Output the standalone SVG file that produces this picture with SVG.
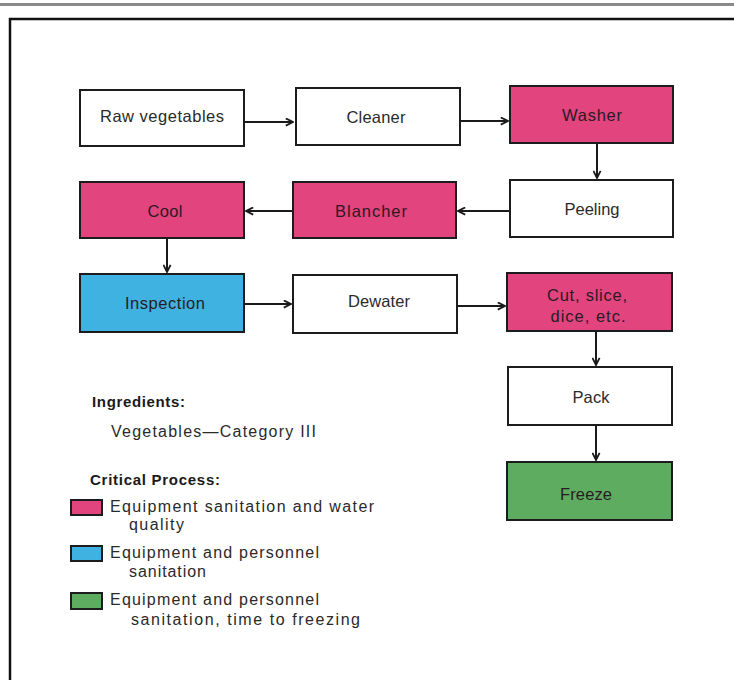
<svg xmlns="http://www.w3.org/2000/svg" width="734" height="680" viewBox="0 0 734 680">
  <defs>
    <marker id="arrow" viewBox="0 0 10 10" refX="9" refY="5" markerWidth="9" markerHeight="9" markerUnits="userSpaceOnUse" orient="auto">
      <path d="M1,1 L9,5 L1,9" fill="none" stroke="#1a1a1a" stroke-width="2"/>
    </marker>
  </defs>
  <style>
    .box { stroke: #1c1c1c; stroke-width: 2; }
    .plain { fill: #ffffff; }
    .pink { fill: #e2447d; }
    .blue { fill: #3fb2e2; }
    .green { fill: #5dac60; }
    .lbl { font-family: "Liberation Sans", "DejaVu Sans", sans-serif; font-size: 16.5px; fill: #2a2a2a; text-anchor: middle; }
    .dark { fill: #2a1a24; }
    .leg { font-family: "Liberation Sans", "DejaVu Sans", sans-serif; font-size: 16px; fill: #2a2a2a; }
    .head { font-family: "Liberation Sans", "DejaVu Sans", sans-serif; font-size: 15px; font-weight: bold; fill: #1a1a1a; }
    .conn { stroke: #1a1a1a; stroke-width: 2; fill: none; marker-end: url(#arrow); }
    .sw { stroke: #1c1c1c; stroke-width: 2; }
  </style>

  <rect x="0" y="0" width="734" height="680" fill="#ffffff"/>

  <!-- page frame -->
  <g id="frame">
    <line x1="0" y1="4.5" x2="734" y2="4.5" stroke="#8a8a8a" stroke-width="3"/>
    <polyline points="10,680 10,19 734,19" fill="none" stroke="#111" stroke-width="2.5"/>
  </g>

  <!-- process steps -->
  <g id="raw-vegetables">
    <rect class="box plain" x="80" y="90" width="164" height="56"/>
    <text class="lbl" x="162" y="122" textLength="124" lengthAdjust="spacing">Raw vegetables</text>
  </g>
  <g id="cleaner">
    <rect class="box plain" x="296" y="88" width="164" height="57"/>
    <text class="lbl" x="376" y="123" textLength="59" lengthAdjust="spacing">Cleaner</text>
  </g>
  <g id="washer">
    <rect class="box pink" x="510" y="86" width="163" height="57"/>
    <text class="lbl dark" x="592" y="121" textLength="60" lengthAdjust="spacing">Washer</text>
  </g>
  <g id="peeling">
    <rect class="box plain" x="510" y="180" width="163" height="57"/>
    <text class="lbl" x="592" y="215" textLength="55" lengthAdjust="spacing">Peeling</text>
  </g>
  <g id="blancher">
    <rect class="box pink" x="293" y="182" width="163" height="56"/>
    <text class="lbl dark" x="371" y="217" textLength="72" lengthAdjust="spacing">Blancher</text>
  </g>
  <g id="cool">
    <rect class="box pink" x="80" y="182" width="164" height="56"/>
    <text class="lbl dark" x="165" y="217" textLength="35" lengthAdjust="spacing">Cool</text>
  </g>
  <g id="inspection">
    <rect class="box blue" x="80" y="274" width="164" height="58"/>
    <text class="lbl dark" x="165" y="309" textLength="80" lengthAdjust="spacing">Inspection</text>
  </g>
  <g id="dewater">
    <rect class="box plain" x="293" y="275" width="164" height="58"/>
    <text class="lbl" x="379" y="307" textLength="62" lengthAdjust="spacing">Dewater</text>
  </g>
  <g id="cut-slice-dice">
    <rect class="box pink" x="507" y="273" width="165" height="58"/>
    <text class="lbl dark" x="587" y="301" textLength="80" lengthAdjust="spacing">Cut, slice,</text>
    <text class="lbl dark" x="588" y="322" textLength="75" lengthAdjust="spacing">dice, etc.</text>
  </g>
  <g id="pack">
    <rect class="box plain" x="508" y="367" width="164" height="58"/>
    <text class="lbl" x="591" y="403" textLength="37" lengthAdjust="spacing">Pack</text>
  </g>
  <g id="freeze">
    <rect class="box green" x="507" y="462" width="165" height="58"/>
    <text class="lbl dark" x="586" y="500" textLength="52" lengthAdjust="spacing">Freeze</text>
  </g>

  <!-- flow connectors -->
  <g id="connectors">
    <line class="conn" x1="245" y1="122" x2="293" y2="122"/>
    <line class="conn" x1="461" y1="121" x2="508" y2="121"/>
    <line class="conn" x1="597" y1="144" x2="597" y2="178"/>
    <line class="conn" x1="509" y1="211" x2="458" y2="211"/>
    <line class="conn" x1="292" y1="211" x2="246" y2="211"/>
    <line class="conn" x1="167" y1="239" x2="167" y2="272"/>
    <line class="conn" x1="245" y1="304" x2="291" y2="304"/>
    <line class="conn" x1="458" y1="306" x2="505" y2="306"/>
    <line class="conn" x1="596" y1="332" x2="596" y2="365"/>
    <line class="conn" x1="596" y1="426" x2="596" y2="460"/>
  </g>

  <!-- legend -->
  <g id="legend">
    <text class="head" x="92" y="407" textLength="93" lengthAdjust="spacing">Ingredients:</text>
    <text class="leg" x="111" y="437" textLength="205" lengthAdjust="spacing">Vegetables—Category III</text>
    <text class="head" x="90" y="485" textLength="130" lengthAdjust="spacing">Critical Process:</text>

    <rect class="sw pink" x="71" y="500" width="31" height="15"/>
    <text class="leg" x="110" y="512" textLength="264" lengthAdjust="spacing">Equipment sanitation and water</text>
    <text class="leg" x="129" y="530" textLength="55" lengthAdjust="spacing">quality</text>

    <rect class="sw blue" x="71" y="546" width="31" height="15"/>
    <text class="leg" x="110" y="558" textLength="209" lengthAdjust="spacing">Equipment and personnel</text>
    <text class="leg" x="129" y="577" textLength="77" lengthAdjust="spacing">sanitation</text>

    <rect class="sw green" x="71" y="593" width="31" height="16"/>
    <text class="leg" x="110" y="605" textLength="209" lengthAdjust="spacing">Equipment and personnel</text>
    <text class="leg" x="131" y="625" textLength="229" lengthAdjust="spacing">sanitation, time to freezing</text>
  </g>
</svg>
